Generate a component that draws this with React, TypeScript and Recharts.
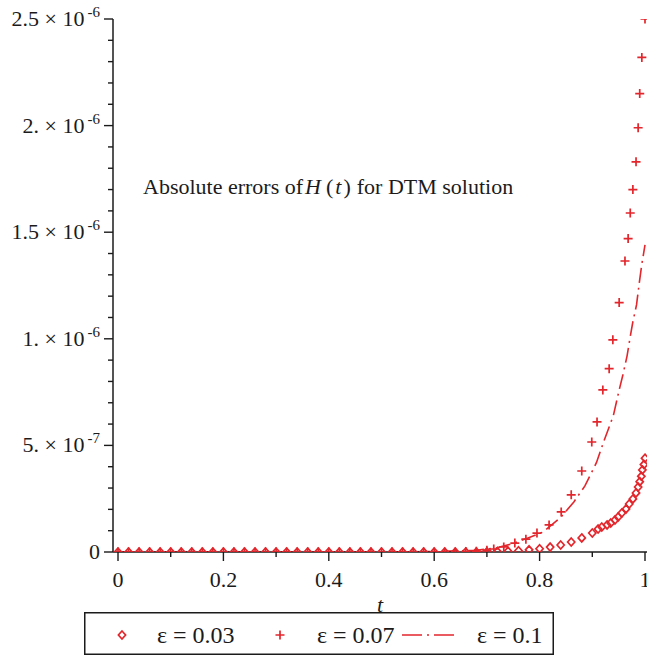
import { ComposedChart, Line, Scatter, XAxis, YAxis, Label } from "recharts";

const RED = "#e2262c";
const INK = "#1b1b1b";
const SERIF =
  "'Liberation Serif', 'DejaVu Serif', 'Noto Serif', 'Times New Roman', Times, 'Nimbus Roman', FreeSerif, serif";

// errors are kept in units of 1e-6
const eps003T = [
  0, 0.02, 0.04, 0.06, 0.08, 0.1, 0.12, 0.14, 0.16, 0.18, 0.2, 0.22, 0.24, 0.26, 0.28, 0.3,
  0.32, 0.34, 0.36, 0.38, 0.4, 0.42, 0.44, 0.46, 0.48, 0.5, 0.52, 0.54, 0.56, 0.58, 0.6,
  0.62, 0.64, 0.66, 0.68, 0.7, 0.72, 0.74, 0.76, 0.78, 0.8, 0.82, 0.84, 0.86, 0.88, 0.9,
  0.911, 0.918, 0.928, 0.935, 0.943, 0.949, 0.956, 0.964, 0.97, 0.977, 0.983, 0.987, 0.99,
  0.993, 0.995, 0.998, 1.0,
];
const eps003Err = [
  0, 0, 0, 0, 0, 0, 0, 0, 0, 0, 0, 0, 0, 0, 0, 0,
  0, 0, 0, 0, 0, 0, 0, 0, 0, 0, 0, 0, 0, 0, 0,
  0, 0, 0, 0, 0.001, 0.002, 0.004, 0.006, 0.01, 0.015, 0.023, 0.033, 0.047, 0.066, 0.089,
  0.108, 0.117, 0.127, 0.136, 0.15, 0.164, 0.183, 0.202, 0.225, 0.249, 0.277, 0.305, 0.33,
  0.355, 0.385, 0.41, 0.44,
];

const eps007T = [
  0, 0.02, 0.04, 0.06, 0.08, 0.1, 0.12, 0.14, 0.16, 0.18, 0.2, 0.22, 0.24, 0.26, 0.28, 0.3,
  0.32, 0.34, 0.36, 0.38, 0.4, 0.42, 0.44, 0.46, 0.48, 0.5, 0.52, 0.54, 0.56, 0.58, 0.6,
  0.62, 0.64, 0.66, 0.68, 0.7, 0.713, 0.732, 0.753, 0.774, 0.795, 0.818, 0.841, 0.86, 0.88,
  0.899, 0.909, 0.92, 0.932, 0.939, 0.951, 0.962, 0.968, 0.972, 0.977, 0.983, 0.987, 0.99,
  0.994, 1.0,
];
const eps007Err = [
  0, 0, 0, 0, 0, 0, 0, 0, 0, 0, 0, 0, 0, 0, 0, 0,
  0, 0, 0, 0, 0, 0, 0, 0, 0, 0, 0, 0, 0, 0, 0,
  0, 0, 0.002, 0.004, 0.008, 0.014, 0.024, 0.042, 0.06, 0.089, 0.127, 0.188, 0.268, 0.38,
  0.516, 0.61, 0.76, 0.86, 0.995, 1.17, 1.365, 1.47, 1.59, 1.7, 1.83, 1.99, 2.15,
  2.32, 2.5,
];

const eps01T = [
  0, 0.1, 0.2, 0.3, 0.4, 0.5, 0.6, 0.68, 0.717, 0.747, 0.778, 0.807, 0.841, 0.865, 0.886,
  0.908, 0.922, 0.94, 0.951, 0.958, 0.966, 0.972, 0.977, 0.984, 0.989, 0.994, 1.0,
];
const eps01Err = [
  0, 0, 0, 0, 0, 0, 0.002, 0.008, 0.019, 0.038, 0.066, 0.094, 0.165, 0.235, 0.31,
  0.42, 0.52, 0.64, 0.76, 0.83, 0.92, 1.01, 1.08, 1.16, 1.26, 1.35, 1.44,
];

const seriesNames = ["ε = 0.03", "ε = 0.07", "ε = 0.1"];

const xTicks = [0, 0.1, 0.2, 0.3, 0.4, 0.5, 0.6, 0.7, 0.8, 0.9, 1];
const xMajor = [0, 0.2, 0.4, 0.6, 0.8, 1];
const xMajorLabels = ["0", "0.2", "0.4", "0.6", "0.8", "1"];

const yTicks = [
  0, 0.1, 0.2, 0.3, 0.4, 0.5, 0.6, 0.7, 0.8, 0.9, 1, 1.1, 1.2, 1.3, 1.4, 1.5, 1.6, 1.7,
  1.8, 1.9, 2, 2.1, 2.2, 2.3, 2.4, 2.5,
];
const yMajor = [0, 0.5, 1, 1.5, 2, 2.5];
const yMantissa = ["0", "5.", "1.", "1.5", "2.", "2.5"];
const yExponent = ["", "-7", "-6", "-6", "-6", "-6"];

const toRows = (ts: number[], es: number[]) => ts.map((t, i) => ({ t, e: es[i] }));

const majorIndex = (list: number[], v: number) =>
  list.findIndex((m) => Math.abs(m - v) < 1e-9);

const textStyle = { fontFamily: SERIF, fill: INK };

function XTick({ x, y, payload }: any) {
  const i = majorIndex(xMajor, payload.value);
  return (
    <g>
      <line x1={x} x2={x} y1={y} y2={y + (i >= 0 ? 9 : 5)} stroke={INK} strokeWidth={1.4} />
      {i >= 0 && (
        <text x={x} y={y + 35} textAnchor="middle" style={{ ...textStyle, fontSize: 22 }}>
          {xMajorLabels[i]}
        </text>
      )}
    </g>
  );
}

function YTick({ x, y, payload }: any) {
  const i = majorIndex(yMajor, payload.value);
  return (
    <g>
      <line x1={x - (i >= 0 ? 9 : 5)} x2={x} y1={y} y2={y} stroke={INK} strokeWidth={1.4} />
      {i >= 0 && (
        <text x={x - 13} y={y + 7} textAnchor="end" style={{ ...textStyle, fontSize: 22 }}>
          {yExponent[i] ? (
            <>
              {yMantissa[i]} {"\u00d7"} 10
              <tspan dx={3} dy={-9} style={{ fontSize: 15 }}>
                {yExponent[i]}
              </tspan>
            </>
          ) : (
            yMantissa[i]
          )}
        </text>
      )}
    </g>
  );
}

function Diamond({ cx, cy }: any) {
  if (cx == null || cy == null) return null;
  return (
    <path
      d={`M${cx},${cy - 4} L${cx + 3.6},${cy} L${cx},${cy + 4} L${cx - 3.6},${cy} Z`}
      fill="none"
      stroke={RED}
      strokeWidth={1.7}
    />
  );
}

function Plus({ cx, cy }: any) {
  if (cx == null || cy == null) return null;
  return (
    <path
      d={`M${cx - 4.5},${cy} L${cx + 4.5},${cy} M${cx},${cy - 4.5} L${cx},${cy + 4.5}`}
      stroke={RED}
      strokeWidth={1.7}
    />
  );
}

function LegendBox() {
  return (
    <svg width={470} height={44} style={{ position: "absolute", left: 84, top: 612 }}>
      <rect x={0.75} y={0.75} width={468.5} height={41.5} fill="white" stroke={INK} strokeWidth={1.5} />
      <Diamond cx={38} cy={23} />
      <text x={73} y={31} style={{ ...textStyle, fontSize: 24 }}>{seriesNames[0]}</text>
      <Plus cx={196} cy={23} />
      <text x={233} y={31} style={{ ...textStyle, fontSize: 24 }}>{seriesNames[1]}</text>
      <line x1={318} x2={374} y1={23} y2={23} stroke={RED} strokeWidth={1.6} strokeDasharray="20 5 2 5" />
      <text x={393} y={31} style={{ ...textStyle, fontSize: 24 }}>{seriesNames[2]}</text>
    </svg>
  );
}

function Title() {
  return (
    <svg width={647} height={656} style={{ position: "absolute", left: 0, top: 0, pointerEvents: "none" }}>
      <text x={143} y={194} style={{ ...textStyle, fontSize: 22 }}>
        Absolute errors of
        <tspan dx={2} style={{ fontStyle: "italic" }}>H</tspan>
        <tspan dx={5}>(</tspan>
        <tspan dx={2} style={{ fontStyle: "italic" }}>t</tspan>
        <tspan dx={2}>)</tspan>
        <tspan dx={6}>for DTM solution</tspan>
      </text>
    </svg>
  );
}

export default function App() {
  return (
    <div
      style={{
        position: "fixed",
        left: 0,
        top: 0,
        width: 647,
        height: 656,
        overflow: "hidden",
        background: "white",
        fontFamily: SERIF,
      }}
    >
      <ComposedChart width={647} height={656} margin={{ top: 19, right: 0, bottom: 44, left: 0 }}>
        <XAxis
          dataKey="t"
          type="number"
          domain={[-0.0095, 1.0038]}
          allowDataOverflow
          ticks={xTicks}
          interval={0}
          height={60}
          tick={<XTick />}
          tickLine={false}
          tickSize={0}
          tickMargin={0}
          axisLine={{ stroke: INK, strokeWidth: 1.5 }}
        >
          <Label
            value="t"
            position="insideBottom"
            offset={0}
            style={{ fontFamily: SERIF, fontSize: 22, fontStyle: "italic", fill: INK }}
          />
        </XAxis>
        <YAxis
          dataKey="e"
          type="number"
          domain={[0, 2.5]}
          allowDataOverflow
          ticks={yTicks}
          interval={0}
          width={113}
          tick={<YTick />}
          tickLine={false}
          tickSize={0}
          tickMargin={0}
          axisLine={{ stroke: INK, strokeWidth: 1.5 }}
        />
        <Line
          data={toRows(eps01T, eps01Err)}
          dataKey="e"
          name={seriesNames[2]}
          type="linear"
          stroke={RED}
          strokeWidth={1.6}
          strokeDasharray="15 5 2 5"
          dot={false}
          activeDot={false}
          isAnimationActive={false}
        />
        <Scatter
          data={toRows(eps003T, eps003Err)}
          dataKey="e"
          name={seriesNames[0]}
          shape={(p: any) => <Diamond cx={p.cx} cy={p.cy} />}
          isAnimationActive={false}
        />
        <Scatter
          data={toRows(eps007T, eps007Err)}
          dataKey="e"
          name={seriesNames[1]}
          shape={(p: any) => <Plus cx={p.cx} cy={p.cy} />}
          isAnimationActive={false}
        />
      </ComposedChart>
      <Title />
      <LegendBox />
    </div>
  );
}
